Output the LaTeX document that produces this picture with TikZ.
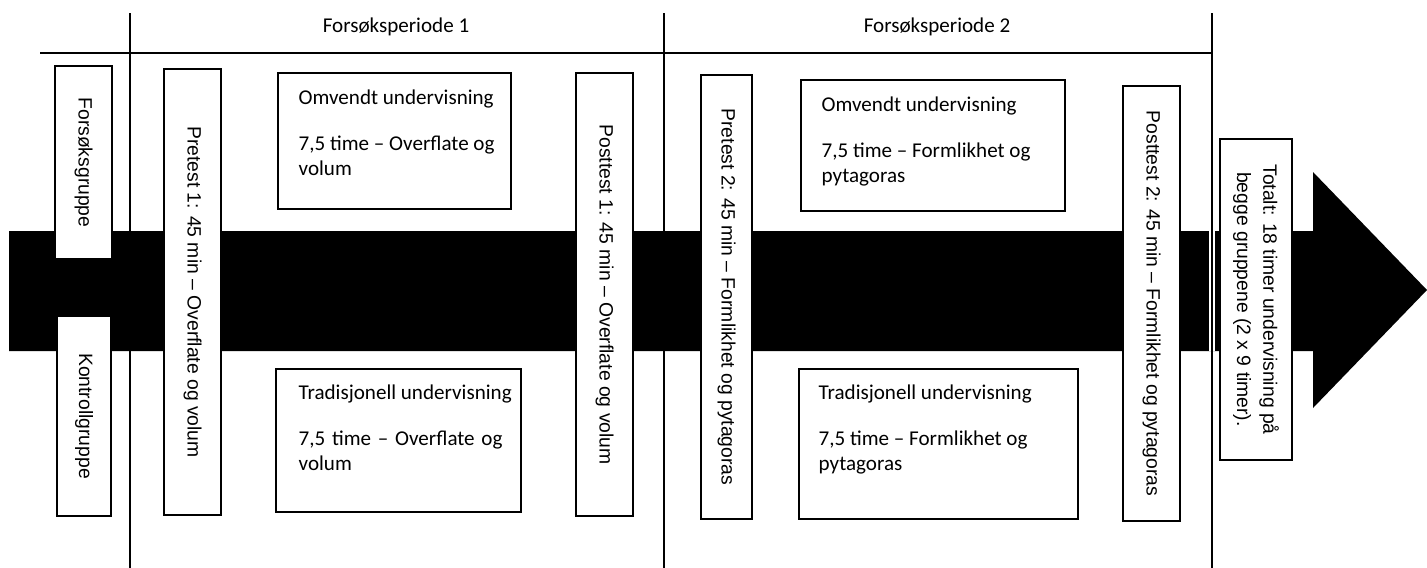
\documentclass[tikz,border=0pt]{standalone}
\usepackage{fontspec}
\setmainfont{Carlito}
\newfontfamily\vfont{Liberation Sans}
\usepackage{tikz}
\usetikzlibrary{calc}
\tikzset{
  sidebox/.style={draw, line width=0.8pt, fill=white, rotate=-90, inner sep=0pt,
                  font=\vfont\fontsize{11}{15}\selectfont, align=center},
  teachbox/.style={draw, line width=0.8pt, fill=white, inner sep=0pt},
  teachtext/.style={anchor=north west, inner sep=0pt, align=left,
                    font=\fontsize{12}{14.2}\selectfont},
  periodlabel/.style={font=\fontsize{12}{14}\selectfont},
  divline/.style={line width=1.1pt}
}

\begin{document}
\begin{tikzpicture}[x=0.02cm, y=-0.02cm]
  \useasboundingbox (0,0) rectangle (1427,568);

  % Time arrow
  \fill[black] (9,231) -- (1313,231) -- (1313,172) -- (1427,290)
        -- (1313,408) -- (1313,351) -- (9,351) -- cycle;

  % Period grid
  \draw[divline] (40,53) -- (1212,53);
  \draw[divline] (130,13) -- (130,568);
  \draw[divline] (664,13) -- (664,568);
  \draw[white, line width=3.5pt] (1212,231) -- (1212,351);
  \draw[divline] (1212,13) -- (1212,568);

  \node[periodlabel] (per1) at (396,27) {Forsøksperiode 1};
  \node[periodlabel] (per2) at (937,27) {Forsøksperiode 2};

  % Groups
  \node[sidebox, minimum width=3.86cm, minimum height=1.14cm] (fgr) at (83.5,162.5) {Forsøksgruppe};
  \node[sidebox, minimum width=4.00cm, minimum height=1.08cm] (kgr) at (84,416) {Kontrollgruppe};

  % Tests
  \node[sidebox, minimum width=8.92cm, minimum height=1.14cm] (pre1) at (192.5,292)
        {Pretest 1: 45 min – Overflate og volum};
  \node[sidebox, minimum width=8.86cm, minimum height=1.14cm] (post1) at (604.5,294.5)
        {Posttest 1: 45 min – Overflate og volum};
  \node[sidebox, minimum width=8.88cm, minimum height=1.02cm] (pre2) at (726.5,297)
        {Pretest 2: 45 min – Formlikhet og pytagoras};
  \node[sidebox, minimum width=8.70cm, minimum height=1.14cm] (post2) at (1151.5,303.5)
        {Posttest 2: 45 min – Formlikhet og pytagoras};

  % Total
  \node[sidebox, minimum width=6.42cm, minimum height=1.44cm] (tot) at (1256,299.5)
        {Totalt: 18 timer undervisning på\\begge gruppene (2 x 9 timer).};

  % Teaching, period 1
  \node[teachbox, minimum width=4.66cm, minimum height=2.72cm] (omv1) at (394.5,141) {};
  \node[teachtext] (omv1txt) at ($(omv1.north west)+(21,17)$)
        {Omvendt undervisning\\[12pt]7,5 time – Overflate og\\volum};
  \node[teachbox, minimum width=4.90cm, minimum height=2.86cm] (trad1) at (398.5,440.5) {};
  \node[teachtext] (trad1txt) at ($(trad1.north west)+(23,16)$)
        {Tradisjonell undervisning\\[12pt]\makebox[116pt][s]{7,5 time – Overflate og}\\volum};

  % Teaching, period 2
  \node[teachbox, minimum width=5.28cm, minimum height=2.62cm] (omv2) at (933,145.5) {};
  \node[teachtext] (omv2txt) at ($(omv2.north west)+(21,17)$)
        {Omvendt undervisning\\[12pt]7,5 time – Formlikhet og\\pytagoras};
  \node[teachbox, minimum width=5.58cm, minimum height=3.00cm] (trad2) at (938.5,444) {};
  \node[teachtext] (trad2txt) at ($(trad2.north west)+(20,16)$)
        {Tradisjonell undervisning\\[12pt]7,5 time – Formlikhet og\\pytagoras};
\end{tikzpicture}
\end{document}
